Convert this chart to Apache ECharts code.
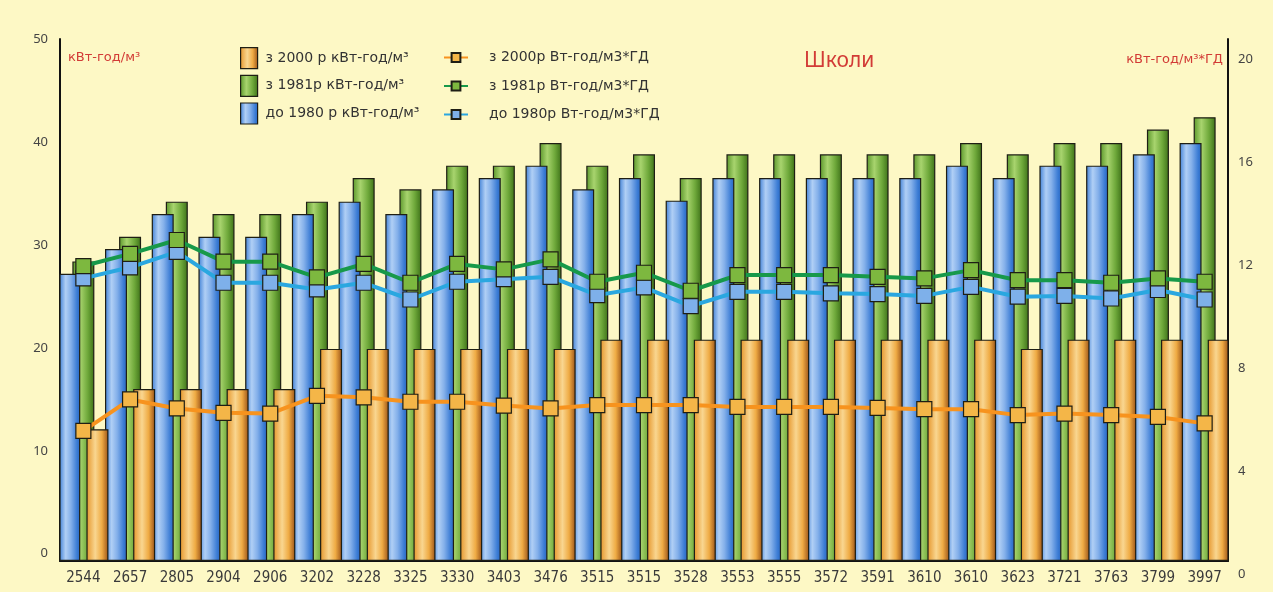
<!DOCTYPE html>
<html>
<head>
<meta charset="utf-8">
<script src="https://cdn.jsdelivr.net/npm/echarts@6/dist/echarts.min.js"></script>
<style>
  html, body { margin: 0; padding: 0; background: #fdf8c5; }
  #chart { width: 1273px; height: 592px; }
</style>
</head>
<body>
<div id="chart"></div>
<script>
// Schools: specific energy use by construction period
const categories = ['2544','2657','2805','2904','2906','3202','3228','3325','3330','3403','3476','3515','3515','3528','3553','3555','3572','3591','3610','3610','3623','3721','3763','3799','3997'];

// kWh/m3 (left axis)
const before1980 = [27.2, 29.6, 33.0, 30.8, 30.8, 33.0, 34.2, 33.0, 35.4, 36.5, 37.7, 35.4, 36.5, 34.3, 36.5, 36.5, 36.5, 36.5, 36.5, 37.7, 36.5, 37.7, 37.7, 38.8, 39.9];
const since1981 = [28.4, 30.8, 34.2, 33.0, 33.0, 34.2, 36.5, 35.4, 37.7, 37.7, 39.9, 37.7, 38.8, 36.5, 38.8, 38.8, 38.8, 38.8, 38.8, 39.9, 38.8, 39.9, 39.9, 41.2, 42.4];
const since2000 = [12.1, 16.0, 16.0, 16.0, 16.0, 19.9, 19.9, 19.9, 19.9, 19.9, 19.9, 20.8, 20.8, 20.8, 20.8, 20.8, 20.8, 20.8, 20.8, 20.8, 19.9, 20.8, 20.8, 20.8, 20.8];

// Wh/m3 per degree-day (right axis)
const before1980Dd = [11.48, 11.91, 12.51, 11.31, 11.31, 11.05, 11.31, 10.66, 11.35, 11.45, 11.54, 10.83, 11.13, 10.40, 10.96, 10.96, 10.90, 10.87, 10.80, 11.15, 10.77, 10.80, 10.70, 11.03, 10.66];
const since1981Dd = [11.96, 12.43, 12.97, 12.13, 12.13, 11.52, 12.04, 11.31, 12.04, 11.83, 12.22, 11.35, 11.70, 11.00, 11.61, 11.61, 11.61, 11.54, 11.48, 11.80, 11.41, 11.41, 11.31, 11.48, 11.35];
const since2000Dd = [5.56, 6.78, 6.43, 6.26, 6.23, 6.92, 6.86, 6.69, 6.69, 6.54, 6.43, 6.56, 6.56, 6.56, 6.49, 6.49, 6.49, 6.45, 6.40, 6.40, 6.17, 6.23, 6.17, 6.10, 5.85];

const leftTicks = [0, 10, 20, 30, 40, 50];

const barNames = ['з 2000 р кВт-год/м³', 'з 1981р кВт-год/м³', 'до 1980 р кВт-год/м³'];
const lineNames = ['з 2000р Вт-год/м3*ГД', 'з 1981р Вт-год/м3*ГД', 'до 1980р Вт-год/м3*ГД'];

const TXT = '#333';
const RED = '#d23b36';
const narrow = "'Liberation Sans Narrow', 'DejaVu Sans Condensed', 'Noto Sans', sans-serif";

function hGrad(stops) {
  return { type: 'linear', x: 0, y: 0, x2: 1, y2: 0,
    colorStops: stops.map(s => ({ offset: s[0], color: s[1] })) };
}
const blueFill = hGrad([[0, '#3f80d6'], [0.3, '#b0cff5'], [0.55, '#84b0ea'], [0.85, '#3a7bd4'], [1, '#2a67c0']]);
const greenFill = hGrad([[0, '#5a962a'], [0.35, '#a8d46e'], [0.7, '#6ea83a'], [1, '#3d7018']]);
const orangeFill = hGrad([[0, '#e5952a'], [0.4, '#f9d690'], [0.7, '#efab44'], [1, '#9a5217']]);

const barBase = {
  type: 'bar', xAxisIndex: 0, yAxisIndex: 0,
  barWidth: 22, barGap: '-36%',
  itemStyle: { borderColor: '#1e1e14', borderWidth: 1.2 }
};

function lineSeries(name, data, lineColor, fill, z) {
  return {
    name, type: 'line', data, xAxisIndex: 1, yAxisIndex: 2, z,
    symbol: 'rect', symbolSize: 15,
    lineStyle: { color: lineColor, width: 4 },
    itemStyle: { color: fill, borderColor: '#1e1e14', borderWidth: 1.2 }
  };
}

const chart = echarts.init(document.getElementById('chart'), null, { renderer: 'canvas' });
chart.setOption({
  backgroundColor: '#fdf8c5',
  animation: false,
  textStyle: { fontFamily: "'Noto Sans', sans-serif" },
  title: [
    { text: 'Школи', left: 799, top: 46,
      textStyle: { color: RED, fontSize: 21, fontWeight: 'normal', fontFamily: "'Noto Sans', sans-serif" } },
    { text: 'кВт-год/м³', left: 63, top: 46,
      textStyle: { color: RED, fontSize: 13, fontWeight: 'normal', fontFamily: "'DejaVu Sans', sans-serif" } },
    { text: 'кВт-год/м³*ГД', right: 45, top: 48,
      textStyle: { color: RED, fontSize: 13, fontWeight: 'normal', fontFamily: "'DejaVu Sans', sans-serif" } }
  ],
  legend: [
    { data: barNames, orient: 'vertical', left: 235, top: 42, selectedMode: false,
      icon: 'rect', itemWidth: 17, itemHeight: 21, itemGap: 5.5,
      itemStyle: { borderColor: '#1e1e14', borderWidth: 1.2 },
      textStyle: { color: TXT, fontSize: 14, lineHeight: 21, fontFamily: "'DejaVu Sans', sans-serif", padding: [0, 0, 0, 3] } },
    { data: lineNames, orient: 'vertical', left: 438, top: 42, selectedMode: false,
      itemWidth: 24, itemHeight: 11, itemGap: 7.5,
      textStyle: { color: TXT, fontSize: 14, lineHeight: 21, fontFamily: "'DejaVu Sans', sans-serif", padding: [0, 0, 0, 16] } }
  ],
  grid: [
    { left: 60, right: 45, top: 39, bottom: 31 },
    { left: 60, right: 45, top: 59, bottom: 18 }
  ],
  xAxis: [
    { type: 'category', gridIndex: 0, data: categories, position: 'bottom',
      axisLine: { onZero: false, lineStyle: { color: '#111', width: 2 } },
      axisTick: { length: 11, lineStyle: { color: '#111', width: 1.5 } },
      axisLabel: { color: '#3a3a3a', fontSize: 15, margin: 10, fontFamily: narrow, interval: 0 } },
    { type: 'category', gridIndex: 1, data: categories, show: false }
  ],
  yAxis: [
    { type: 'value', gridIndex: 0, position: 'left', min: -0.7, max: 50, startValue: -0.7,
      axisLine: { show: true, lineStyle: { color: '#111', width: 2 } },
      axisTick: { show: false },
      splitLine: { show: false },
      axisLabel: { color: '#444', fontSize: 13, margin: 12, customValues: leftTicks } },
    { type: 'value', gridIndex: 0, position: 'right', min: -0.7, max: 50,
      axisLine: { show: true, lineStyle: { color: '#111', width: 2 } },
      axisTick: { show: false }, axisLabel: { show: false }, splitLine: { show: false } },
    { type: 'value', gridIndex: 1, position: 'right', min: 0, max: 20, interval: 4,
      axisLine: { show: false }, axisTick: { show: false }, splitLine: { show: false },
      axisLabel: { color: '#444', fontSize: 13, margin: 10 } }
  ],
  series: [
    Object.assign({}, barBase, { name: barNames[2], data: before1980, z: 3,
      itemStyle: Object.assign({}, barBase.itemStyle, { color: blueFill }) }),
    Object.assign({}, barBase, { name: barNames[1], data: since1981, z: 2,
      itemStyle: Object.assign({}, barBase.itemStyle, { color: greenFill }) }),
    Object.assign({}, barBase, { name: barNames[0], data: since2000, z: 3,
      itemStyle: Object.assign({}, barBase.itemStyle, { color: orangeFill }) }),
    lineSeries(lineNames[2], before1980Dd, '#2aa7e0', '#7eb0ea', 5),
    lineSeries(lineNames[1], since1981Dd, '#17994a', '#7db83f', 6),
    lineSeries(lineNames[0], since2000Dd, '#f7931e', '#f4b648', 6)
  ]
});
</script>
</body>
</html>
